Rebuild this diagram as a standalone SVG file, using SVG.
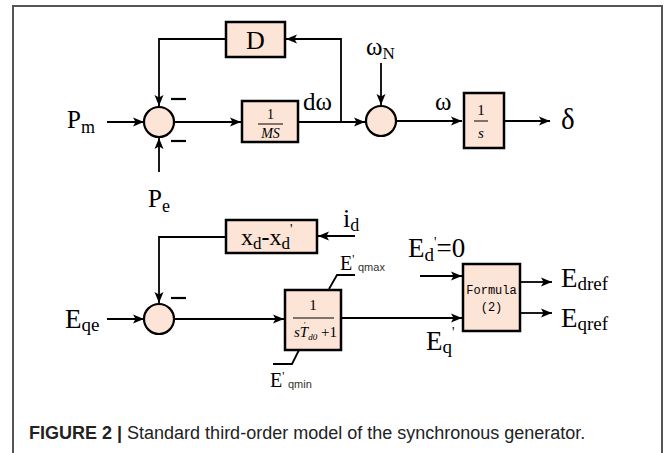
<svg xmlns="http://www.w3.org/2000/svg" width="665" height="453" viewBox="0 0 665 453">
<defs>
<marker id="ah" markerUnits="userSpaceOnUse" markerWidth="12" markerHeight="10" refX="11" refY="5" orient="auto">
<path d="M0,0.5 L11,5 L0,9.5 L2.5,5 Z" fill="#000"/>
</marker>
</defs>
<style>
.blk{fill:#fce4d6;stroke:#000;stroke-width:2.5}
.sum{fill:#fce4d6;stroke:#000;stroke-width:2.2}
.ln{fill:none;stroke:#000;stroke-width:1.8}
.ar{fill:none;stroke:#000;stroke-width:1.8;marker-end:url(#ah)}
.t{font-family:"Liberation Serif","Times New Roman",serif;fill:#000}
.s{font-family:"Liberation Sans",Arial,sans-serif;fill:#333}
.m{font-family:"Liberation Mono","Courier New",monospace;fill:#000;font-size:12px}
.minus{stroke:#000;stroke-width:2.2}
</style>
<rect x="13" y="6" width="649" height="460" fill="#fff" stroke="#555" stroke-width="2"/>

<g id="connectors">
<path class="ar" d="M107,122 H144"/>
<path class="ar" d="M226,39 H159 V106"/>
<path class="ar" d="M159,172 V138"/>
<path class="ar" d="M175,122 H241"/>
<path class="ar" d="M298,122 H365"/>
<path class="ar" d="M341,122 V39 H286"/>
<path class="ar" d="M381,63 V105"/>
<path class="ar" d="M397,121 H462"/>
<path class="ar" d="M504,121 H550"/>
<path class="ar" d="M107,319 H144"/>
<path class="ar" d="M226,237 H159 V303"/>
<path class="ar" d="M355,236 H318"/>
<path class="ar" d="M175,319 H284"/>
<path class="ar" d="M341,318 H462"/>
<path class="ar" d="M420,276 H462"/>
<path class="ar" d="M520,282 H552"/>
<path class="ar" d="M520,313 H552"/>
<path class="ln" d="M329,289 L337,275 H355"/>
<path class="ln" d="M299,350 L292,364 H273"/>
</g>

<g id="sum1">
<circle class="sum" cx="159" cy="122" r="15"/>
<line class="minus" x1="171" y1="99" x2="186" y2="99"/>
<line class="minus" x1="171" y1="141" x2="186" y2="141"/>
</g>
<g id="sum2">
<circle class="sum" cx="381" cy="121" r="15"/>
</g>
<g id="sum3">
<circle class="sum" cx="159" cy="319" r="15"/>
<line class="minus" x1="171" y1="298" x2="186" y2="298"/>
</g>

<g id="blockD">
<rect class="blk" x="226" y="22" width="59" height="35"/>
<text class="t" x="255.5" y="49" font-size="26" text-anchor="middle">D</text>
</g>
<g id="blockMS">
<rect class="blk" x="242" y="101" width="56" height="41"/>
<text class="t" x="270.5" y="119" font-size="14" text-anchor="middle">1</text>
<line x1="258" y1="124" x2="283" y2="124" stroke="#000" stroke-width="1"/>
<text class="t" x="270.5" y="138" font-size="14" font-style="italic" text-anchor="middle">MS</text>
</g>
<g id="blockS">
<rect class="blk" x="464" y="93" width="40" height="55"/>
<text class="t" x="481" y="115" font-size="15" text-anchor="middle">1</text>
<line x1="474" y1="121" x2="488" y2="121" stroke="#000" stroke-width="1"/>
<text class="t" x="481" y="138" font-size="15" font-style="italic" text-anchor="middle">s</text>
</g>
<g id="blockX">
<rect class="blk" x="226" y="220" width="91" height="33"/>
<text class="t" x="241" y="245" font-size="24">x<tspan font-size="17" dy="4">d</tspan><tspan dy="-4" font-weight="bold">-</tspan>x<tspan font-size="17" dy="4">d</tspan><tspan font-size="14" dy="-15">'</tspan></text>
</g>
<g id="blockInt">
<rect class="blk" x="285" y="290" width="56" height="60"/>
<text class="t" x="313" y="310" font-size="15" text-anchor="middle">1</text>
<line x1="293" y1="318" x2="334" y2="318" stroke="#000" stroke-width="1"/>
<text class="t" x="294" y="337" font-size="15"><tspan font-style="italic">sT</tspan><tspan font-size="9" font-style="italic" dy="3">d0</tspan><tspan dy="-3"> +1</tspan></text>
<text class="t" x="304" y="328" font-size="8">'</text>
</g>
<g id="blockF">
<rect class="blk" x="463" y="264" width="57" height="67"/>
<text class="m" x="491.5" y="294" text-anchor="middle">Formula</text>
<text class="m" x="491.5" y="311" text-anchor="middle">(2)</text>
</g>

<g id="labels">
<text class="t" x="67" y="128" font-size="25">P<tspan font-size="18" dy="5">m</tspan></text>
<text class="t" x="148" y="207" font-size="25">P<tspan font-size="18" dy="5">e</tspan></text>
<text class="t" x="303" y="110" font-size="25">dω</text>
<text class="t" x="366" y="55" font-size="25">ω<tspan font-size="17" dy="4">N</tspan></text>
<text class="t" x="435" y="110" font-size="25">ω</text>
<text class="t" x="561" y="129" font-size="29">δ</text>
<text class="t" x="65" y="328" font-size="27">E<tspan font-size="19" dy="3">qe</tspan></text>
<text class="t" x="340" y="270" font-size="20">E<tspan font-size="12" dy="-7">'</tspan></text>
<text class="s" x="358" y="271" font-size="11">qmax</text>
<text class="t" x="270" y="387" font-size="20">E<tspan font-size="12" dy="-7">'</tspan></text>
<text class="s" x="288" y="388" font-size="11">qmin</text>
<text class="t" x="343" y="227" font-size="26">i<tspan font-size="18" dy="4">d</tspan></text>
<text class="t" x="408" y="257" font-size="27">E<tspan font-size="19" dy="4">d</tspan><tspan font-size="14" dy="-14">'</tspan><tspan dy="10">=0</tspan></text>
<text class="t" x="426" y="350" font-size="27">E<tspan font-size="19" dy="3">q</tspan><tspan font-size="14" dy="-16">'</tspan></text>
<text class="t" x="561" y="287" font-size="27">E<tspan font-size="19" dy="3">dref</tspan></text>
<text class="t" x="561" y="327" font-size="27">E<tspan font-size="19" dy="3">qref</tspan></text>
</g>

<text x="29" y="439" font-family="Liberation Sans,Arial,sans-serif" font-size="18" fill="#222"><tspan font-weight="bold">FIGURE 2 |</tspan> Standard third-order model of the synchronous generator.</text>
</svg>
